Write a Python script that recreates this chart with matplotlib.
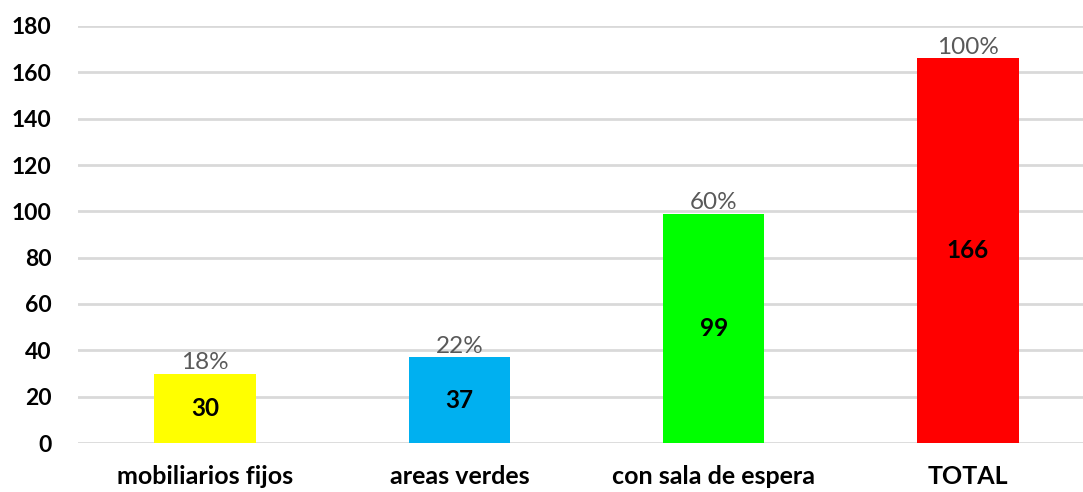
import matplotlib
matplotlib.use("Agg")
from matplotlib import pyplot as plt

categorias = ["mobiliarios fijos", "areas verdes", "con sala de espera", "TOTAL"]
valores = [30, 37, 99, 166]
porcentajes = ["18%", "22%", "60%", "100%"]
colores = ["#ffff00", "#00b0f0", "#00ff00", "#ff0000"]

plt.rcParams['font.family'] = ['Lato', 'DejaVu Sans']

fig = plt.figure(figsize=(10.83, 4.92), dpi=100)
# el eje se sale un poco por la derecha, como en el original recortado
ax = fig.add_axes([78 / 1083, 1 - 443 / 492, 1017 / 1083, 417 / 492])

x = range(len(categorias))
barras = ax.bar(x, valores, width=0.4, color=colores, zorder=3)

for b, v, p in zip(barras, valores, porcentajes):
    cx = b.get_x() + b.get_width() / 2
    ax.text(cx, v / 2, str(v), ha='center', va='center', fontsize=17.5,
            fontweight='bold', color='black', zorder=4)
    ax.text(cx, v + 0.3, p, ha='center', va='bottom', fontsize=17.5,
            color='#595959', zorder=4)

ax.set_xlim(-0.5, 3.5)
ax.set_ylim(0, 180)
ax.set_yticks(range(0, 181, 20))
ax.set_xticks(list(x))
ax.set_xticklabels(categorias, fontsize=18, fontweight='bold')
for t in ax.get_yticklabels():
    t.set_fontsize(16.5)
    t.set_fontweight('bold')

ax.yaxis.grid(True, color='#d9d9d9', linewidth=2, zorder=0)
ax.set_axisbelow(True)
for s in ax.spines.values():
    s.set_visible(False)
ax.tick_params(axis='both', length=0)
ax.tick_params(axis='y', pad=19)
ax.tick_params(axis='x', pad=16)

fig.savefig('out.png', dpi=100)
